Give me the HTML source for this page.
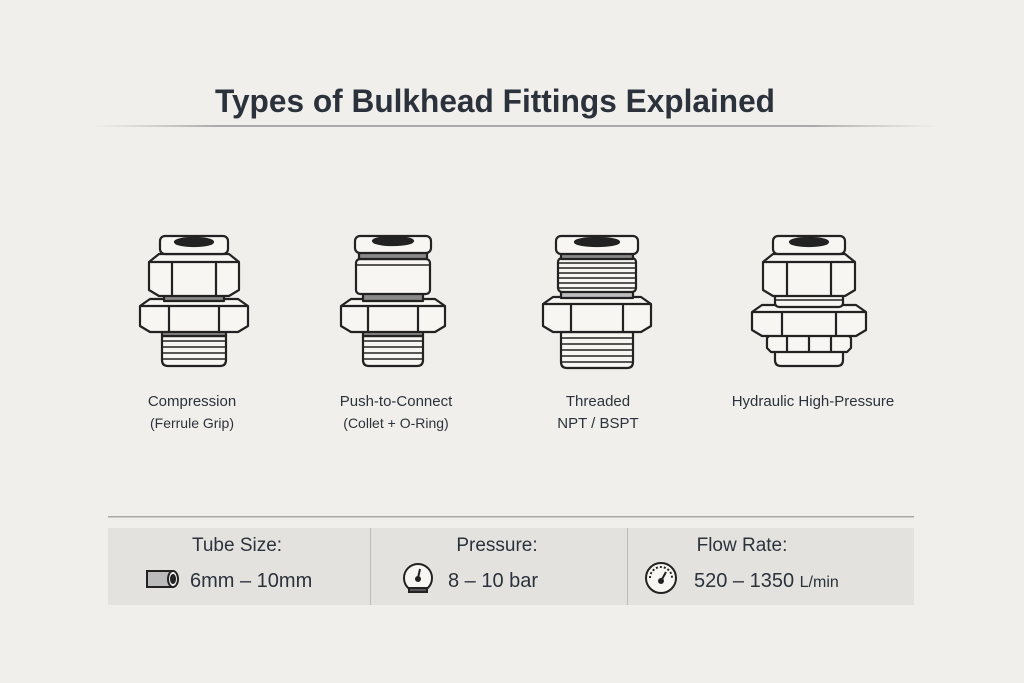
<!DOCTYPE html>
<html><head><meta charset="utf-8"><style>
html,body{margin:0;padding:0;background:#f0efeb;}
svg{display:block;font-family:"Liberation Sans",sans-serif;}
</style></head><body>
<svg width="1024" height="683" viewBox="0 0 1024 683" xmlns="http://www.w3.org/2000/svg">
<defs>
<linearGradient id="ln" x1="0" x2="1"><stop offset="0" stop-color="#bbb" stop-opacity="0"/><stop offset="0.15" stop-color="#aaa"/><stop offset="0.85" stop-color="#aaa"/><stop offset="1" stop-color="#bbb" stop-opacity="0"/></linearGradient>
</defs>
<rect width="1024" height="683" fill="#f0efeb"/>
<text x="215" y="112" font-size="32" font-weight="bold" fill="#2c323b" textLength="560" lengthAdjust="spacingAndGlyphs">Types of Bulkhead Fittings Explained</text>
<rect x="90" y="125" width="850" height="2" fill="url(#ln)"/>

<g stroke="#222" stroke-width="2.2" fill="#f7f6f3" stroke-linejoin="round">
<!-- Compression -->
<g transform="translate(194,0)">
 <path d="M-32,336 h64 v24 q0,6 -6,6 h-52 q-6,0 -6,-6 z"/>
 <path d="M-32,341h64M-32,347h64M-32,353h64M-32,359h64" fill="none" stroke-width="1.5"/>
 <rect x="-32" y="326" width="64" height="10" fill="#8a8a8a"/>
 <path d="M-54,306 l10,-7 h88 l10,7 v20 l-10,6 h-88 l-10,-6 z"/>
 <path d="M-54,306h108M-25,306v26M25,306v26" fill="none"/>
 <rect x="-30" y="292" width="60" height="9" fill="#8a8a8a"/>
 <path d="M-45,262 l10,-8 h70 l10,8 v28 l-10,6 h-70 l-10,-6 z"/>
 <path d="M-45,262h90M-22,262v34M22,262v34" fill="none"/>
 <rect x="-34" y="236" width="68" height="18" rx="5"/>
 <ellipse cx="0" cy="242" rx="19" ry="4" fill="#222"/>
</g>
<!-- Push -->
<g transform="translate(393,0)">
 <path d="M-30,336 h60 v24 q0,6 -6,6 h-48 q-6,0 -6,-6 z"/>
 <path d="M-30,341h60M-30,347h60M-30,353h60M-30,359h60" fill="none" stroke-width="1.5"/>
 <rect x="-30" y="326" width="60" height="10" fill="#8a8a8a"/>
 <path d="M-52,306 l10,-7 h84 l10,7 v20 l-10,6 h-84 l-10,-6 z"/>
 <path d="M-52,306h104M-25,306v26M25,306v26" fill="none"/>
 <rect x="-30" y="292" width="60" height="9" fill="#8a8a8a"/>
 <rect x="-37" y="259" width="74" height="35" rx="4"/>
 <path d="M-37,265h74" fill="none" stroke-width="1.5"/>
 <rect x="-34" y="252" width="68" height="7" fill="#8a8a8a"/>
 <rect x="-38" y="236" width="76" height="17" rx="5"/>
 <ellipse cx="0" cy="241" rx="20" ry="4" fill="#222"/>
</g>
<!-- Threaded -->
<g transform="translate(597,0)">
 <path d="M-36,332 h72 v30 q0,6 -6,6 h-60 q-6,0 -6,-6 z"/>
 <path d="M-36,338h72M-36,344h72M-36,350h72M-36,356h72M-36,362h72" fill="none" stroke-width="1.5"/>
 <path d="M-54,304 l10,-7 h88 l10,7 v22 l-10,6 h-88 l-10,-6 z"/>
 <path d="M-54,304h108M-26,304v28M26,304v28" fill="none"/>
 <rect x="-36" y="290" width="72" height="8" fill="#bdbdbd"/>
 <rect x="-39" y="258" width="78" height="34" rx="4"/>
 <path d="M-39,263h78M-39,268h78M-39,273h78M-39,278h78M-39,283h78M-39,288h78" fill="none" stroke-width="1.5"/>
 <rect x="-36" y="252" width="72" height="7" fill="#8a8a8a"/>
 <rect x="-41" y="236" width="82" height="18" rx="5"/>
 <ellipse cx="0" cy="242" rx="22" ry="4" fill="#222"/>
</g>
<!-- Hydraulic -->
<g transform="translate(809,0)">
 <path d="M-34,350 h68 v10 q0,6 -6,6 h-56 q-6,0 -6,-6 z"/>
 <path d="M-42,338 l4,-4 h76 l4,4 v10 l-4,4 h-76 l-4,-4 z"/>
 <path d="M-22,334v18M0,334v18M22,334v18" fill="none"/>
 <path d="M-57,312 l10,-7 h94 l10,7 v18 l-10,6 h-94 l-10,-6 z"/>
 <path d="M-57,312h114M-27,312v24M27,312v24" fill="none"/>
 <rect x="-34" y="294" width="68" height="13" rx="4"/>
 <path d="M-34,300h68" fill="none" stroke-width="1.5"/>
 <path d="M-46,262 l10,-8 h72 l10,8 v28 l-10,6 h-72 l-10,-6 z"/>
 <path d="M-46,262h92M-22,262v34M22,262v34" fill="none"/>
 <rect x="-36" y="236" width="72" height="18" rx="5"/>
 <ellipse cx="0" cy="242" rx="19" ry="4" fill="#222"/>
</g>
</g>

<g fill="#2c323b" font-size="15" text-anchor="middle">
<text x="192" y="406">Compression</text>
<text x="192" y="428" font-size="14">(Ferrule Grip)</text>
<text x="396" y="406">Push-to-Connect</text>
<text x="396" y="428" font-size="14">(Collet + O-Ring)</text>
<text x="598" y="406">Threaded</text>
<text x="598" y="428">NPT / BSPT</text>
<text x="813" y="406">Hydraulic High-Pressure</text>
</g>

<rect x="108" y="516" width="806" height="1.5" fill="#a8a8a8"/>
<rect x="108" y="528" width="806" height="77" fill="#e3e2df"/>
<rect x="370" y="528" width="1" height="77" fill="#bbb"/>
<rect x="627" y="528" width="1" height="77" fill="#bbb"/>

<g fill="#2c323b" font-size="19" text-anchor="middle">
<text x="237" y="551">Tube Size:</text>
<text x="497" y="551">Pressure:</text>
<text x="742" y="551">Flow Rate:</text>
</g>
<g fill="#2c323b" font-size="20">
<text x="190" y="587">6mm – 10mm</text>
<text x="448" y="587">8 – 10 bar</text>
<text x="694" y="587">520 – 1350 <tspan font-size="16">L/min</tspan></text>
</g>
<!-- tube icon -->
<g stroke="#222" stroke-width="2" fill="#bbb">
<path d="M147,571 h26 v16 h-26 z"/>
<ellipse cx="173" cy="579" rx="5" ry="8" fill="#f7f6f3"/>
<ellipse cx="173" cy="579" rx="2" ry="4" fill="#222"/>
</g>
<!-- pressure gauge -->
<g stroke="#222" stroke-width="2" fill="#f7f6f3">
<circle cx="418" cy="578" r="14"/>
<path d="M409,588 h18 v4 h-18z" fill="#555"/>
<path d="M418,578 l2,-9" />
<circle cx="418" cy="579" r="2" fill="#222"/>
</g>
<!-- flow gauge -->
<g stroke="#222" stroke-width="2" fill="#f7f6f3">
<circle cx="661" cy="578" r="15"/>
<path d="M650,578 a11,11 0 0 1 22,0" fill="none" stroke-dasharray="2 2"/>
<path d="M661,581 l5,-9"/>
<circle cx="661" cy="581" r="2" fill="#222"/>
</g>
</svg>
</body></html>
